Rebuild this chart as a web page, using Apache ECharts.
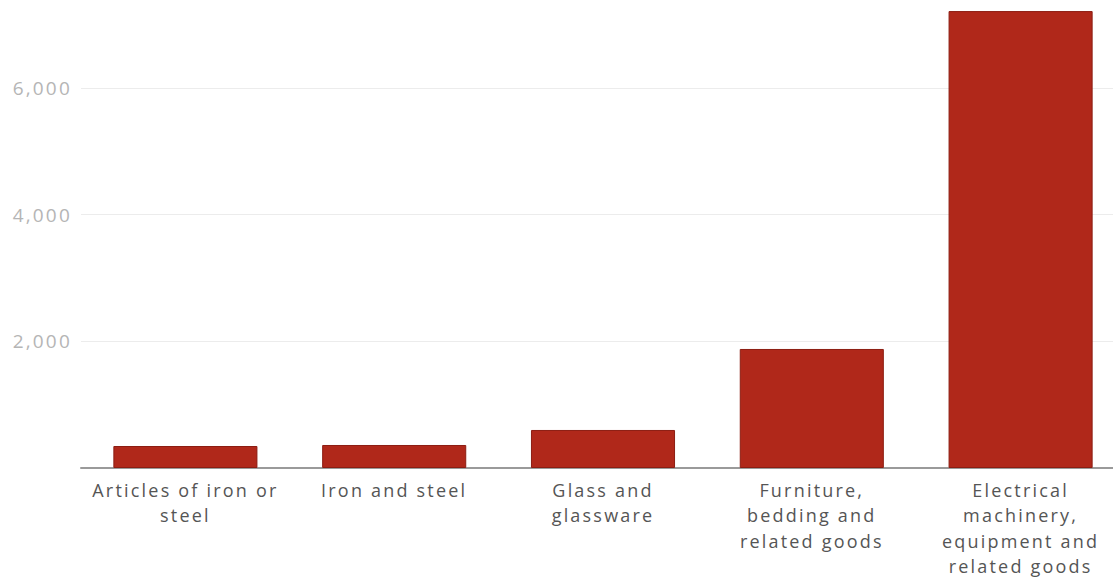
<!DOCTYPE html>
<html>
<head>
<meta charset="utf-8">
<script src="https://cdn.jsdelivr.net/npm/echarts@6/dist/echarts.min.js"></script>
<style>
html,body{margin:0;padding:0;background:#fff;}
#c{width:1113px;height:579px;}
#c svg text{letter-spacing:2.2px;}
</style>
</head>
<body>
<div id="c"></div>
<script>
const categories = [
  "Articles of iron or\nsteel",
  "Iron and steel",
  "Glass and\nglassware",
  "Furniture,\nbedding and\nrelated goods",
  "Electrical\nmachinery,\nequipment and\nrelated goods"
];
const values = [347, 363, 600, 1878, 7210];
const yTicks = [0, 2000, 4000, 6000, 8000];
const yShownLabels = [2000, 4000, 6000];

const chart = echarts.init(document.getElementById('c'), null, {renderer: 'svg'});
chart.setOption({
  animation: false,
  backgroundColor: '#ffffff',
  grid: { left: 81, right: -12, top: -39, bottom: 111, containLabel: false, outerBoundsMode: 'none' },
  xAxis: {
    type: 'category',
    data: categories,
    axisLine: { show: true, lineStyle: { color: '#9a9a9a', width: 2 } },
    axisTick: { show: false },
    axisLabel: {
      color: '#555555',
      fontFamily: 'Open Sans, sans-serif',
      fontSize: 18,
      lineHeight: 25.5,
      margin: 9,
      interval: 0
    }
  },
  yAxis: {
    type: 'value',
    min: yTicks[0],
    max: yTicks[yTicks.length - 1],
    interval: 2000,
    axisLine: { show: false },
    axisTick: { show: false },
    splitLine: { show: true, lineStyle: { color: '#ececec', width: 1 } },
    axisLabel: {
      color: '#b5b5b5',
      fontFamily: 'Open Sans, sans-serif',
      fontSize: 19,
      margin: 9,
      showMaxLabel: false,
      showMinLabel: false,
      formatter: function (v) {
        if (yShownLabels.indexOf(v) < 0) return '';
        return v.toLocaleString('en-US');
      }
    }
  },
  series: [{
    type: 'bar',
    data: values,
    barCategoryGap: '31%',
    itemStyle: { color: '#b0281a', borderColor: '#8c1d12', borderWidth: 1 }
  }]
});
</script>
</body>
</html>
